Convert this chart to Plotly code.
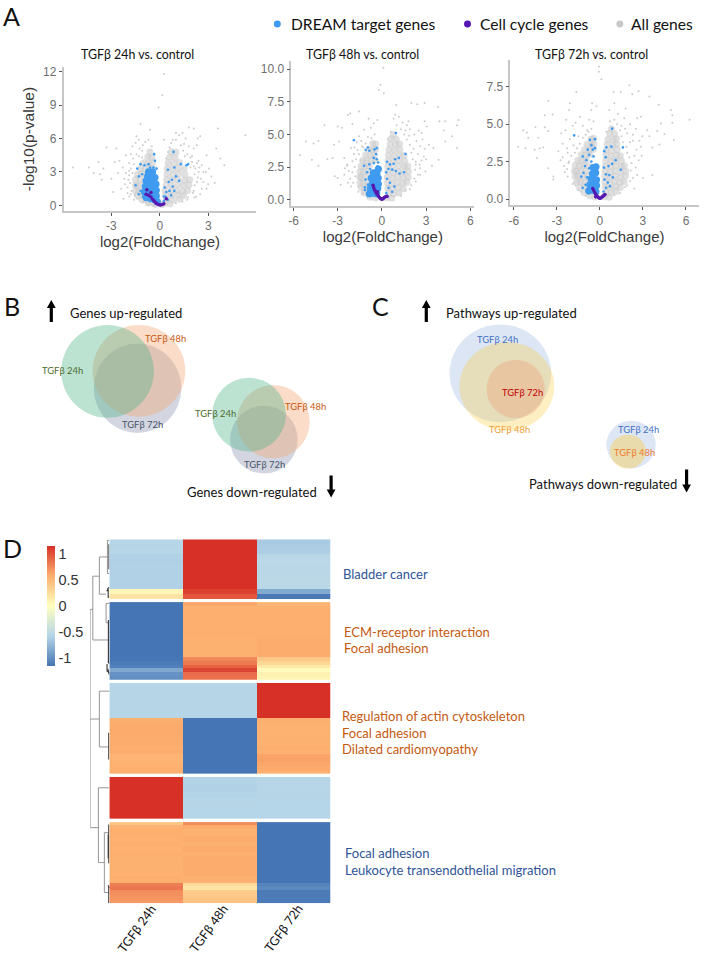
import plotly.graph_objects as go

W, H = 706, 954
SHIFT = 2.5

# ---------- A: volcano data (log2FC, -log10 p) ----------
v1_gray = [(-5.4,3.4),(-4.4,3.4),(-4.1,2.9),(-3.8,3.9),(-3.7,2.8),(-3.6,2.3),(-3.5,3.3),(-3.3,5.2),(-3.0,2.4),(-2.9,1.2),
 (-2.8,3.9),(-2.7,5.1),(-2.6,2.9),(-2.5,4.0),(-2.4,1.5),(-2.3,3.4),(-2.2,2.4),(-2.1,4.5),(-2.0,1.1),(-1.9,3.1),(-1.8,4.6),
 (-1.85,2.0),(-1.7,5.3),(-1.75,1.3),(-1.6,3.7),(-1.5,5.6),(-1.45,6.2),(-1.3,5.9),(-1.2,7.3),(-1.1,4.9),(-0.9,5.7),(-0.6,6.8),
 (-0.08,8.8),(0.25,11.8),(0.15,9.9),(-2.25,0.6),(-1.9,0.8),(-1.6,0.5),(-1.3,4.4),(-1.05,5.4),(-0.7,5.9),(-0.5,5.3),
 (0.6,5.2),(0.8,5.9),(1.0,6.5),(1.2,6.3),(1.4,6.5),(1.6,6.0),(1.8,7.0),(2.1,6.9),(2.35,6.0),(2.3,5.4),(2.5,6.2),(2.1,5.1),
 (2.4,4.0),(2.7,3.0),(2.9,4.5),(3.05,3.3),(3.5,5.1),(3.6,6.9),(3.75,4.2),(4.0,3.6),(5.3,6.3),(2.9,1.5),(2.5,1.0),(2.2,3.3),
 (2.35,2.5),(2.6,3.6),(2.1,1.3),(2.0,4.4),(1.8,5.3),(1.5,5.5),(3.2,2.6),(3.4,2.0),(2.15,0.7),(1.7,0.5),(0.25,5.9),
 (-2.0,1.6),(-1.95,2.3),(-2.1,2.9),(-1.9,2.7),(-2.15,1.9),(-1.8,3.3),(-1.7,2.9),(-1.9,3.8),(-1.65,4.2),(-1.45,4.6),(-1.25,5.1),(-1.1,4.3),
 (-1.55,0.9),(-1.8,1.0),(-1.4,0.6),(-1.05,0.25),(-0.75,0.05),(2.15,1.8),(2.3,2.1),(2.15,2.8),(2.4,3.0),(2.1,3.5),(2.3,3.8),(2.0,3.9),(2.55,2.4),
 (1.9,4.3),(1.7,4.6),(1.45,4.9),(1.55,4.4),(1.3,5.4),(1.0,5.9),(0.7,5.6),(0.5,4.8),(0.4,4.2),(2.05,1.1),(2.25,0.8),(1.75,0.7),(1.4,0.35),(1.0,0.2),
 (2.7,2.1),(2.85,3.0),(3.0,1.9),(1.9,3.4),(2.45,3.4),(2.6,1.5)]
v1_gray_dense = [(-0.72,0.22),(-0.42,0.18),(-1.12,0.52),(-0.82,0.48),(-1.4,0.92),(-1.12,0.86),(-1.5,1.32),(-1.3,1.28),(-1.03,1.33),
 (-1.52,1.8),(-1.42,1.76),(-1.12,1.82),(-1.5,2.32),(-1.22,2.28),(-0.93,2.34),(-1.38,2.8),(-1.12,2.84),(-0.82,2.76),(-0.52,2.86),
 (-1.18,3.32),(-0.92,3.26),(-0.63,3.34),(-0.4,3.3),(-1.0,3.82),(-0.72,3.76),(-0.45,3.86),(-0.75,4.34),(-0.5,4.28),(-0.62,4.8),
 (0.3,0.16),(0.62,0.14),(0.42,0.52),(0.82,0.48),(1.22,0.54),(0.36,0.92),(0.72,0.88),(1.12,0.94),(1.48,0.86),(0.33,1.32),(0.7,1.28),
 (1.06,1.34),(1.42,1.26),(1.72,1.33),(0.4,1.82),(0.75,1.76),(1.12,1.84),(1.46,1.78),(1.8,1.83),(0.42,2.32),(0.76,2.28),(1.1,2.34),
 (1.52,2.26),(1.85,2.31),(0.45,2.82),(0.82,2.78),(1.16,2.84),(1.56,2.76),(0.46,3.32),(0.8,3.26),(1.14,3.34),(1.5,3.28),(0.52,3.82),
 (0.86,3.76),(1.22,3.84),(0.62,4.34),(0.95,4.28),(0.72,4.82),(1.0,4.78),(-0.28,0.08),(0.12,0.06)]
v1_blue_dense = [(-0.85,0.7),(-0.55,0.6),(-0.3,0.5),(-0.15,0.32),(-0.95,1.2),(-0.7,1.1),(-0.45,1.0),(-0.22,0.85),(-0.9,1.7),(-0.65,1.6),
 (-0.4,1.5),(-0.22,1.35),(-0.85,2.2),(-0.6,2.15),(-0.38,2.0),(-0.24,1.9),(-0.75,2.6),(-0.5,2.6),(-0.3,2.5),(-0.45,3.0),(-0.7,3.0)]
v1_blue = [(-1.4,3.3),(-1.2,3.7),(-0.95,3.6),(-0.7,3.7),(-0.6,3.4),(-0.4,3.4),(-0.3,4.0),(-0.35,4.6),(-1.3,2.6),(-1.5,1.8),(-1.1,2.8),
 (-1.2,1.3),(-1.3,1.0),(-1.05,0.8),(-0.2,3.3),(0.25,0.4),(0.35,0.8),(0.4,1.2),(0.3,1.6),(0.6,1.3),(0.8,1.7),(0.9,1.3),(0.55,2.1),
 (0.75,2.3),(1.0,2.6),(0.5,3.2),(0.9,3.4),(1.3,3.7),(0.85,4.8),(1.65,3.6),(1.75,3.7),(0.25,0.8),(0.5,0.5),(0.7,0.9),(1.2,2.2)]
v1_purple = [(-0.85,1.0),(-0.7,0.9),(-0.55,0.75),(-0.45,0.55),(-0.35,0.38),(-0.25,0.22),(-0.15,0.12),(-0.05,0.05),(0.05,0.03),(0.15,0.08),
 (0.25,0.15),(-0.8,1.4),(-0.55,1.15),(0.4,0.6)]

v2_gray = [(-5.16,4.45),(-5.56,3.4),(-4.64,4.3),(-4.3,4.5),(-3.9,5.7),(-4.75,3.05),(-4.3,2.6),(-3.7,3.1),(-3.35,3.2),(-3.25,4.2),(-2.9,4.45),
 (-3.0,5.6),(-2.3,6.5),(-2.15,6.6),(-1.55,6.75),(-2.0,5.8),(-2.7,5.5),(-0.9,6.2),(-0.3,6.1),(-0.55,5.85),(-0.1,8.8),(-0.2,8.4),(0.13,8.15),
 (0.1,10.1),(0.97,7.25),(2.0,7.4),(2.4,7.3),(2.9,7.4),(3.8,7.1),(0.9,6.5),(1.15,6.35),(0.8,6.2),(1.8,6.0),(1.7,5.7),(2.9,6.0),(3.9,6.0),
 (4.3,6.0),(5.2,6.1),(5.1,5.7),(4.2,5.3),(4.75,4.85),(4.3,4.45),(5.1,3.95),(3.5,3.95),(3.85,3.05),(2.95,2.15),(2.5,5.3),(2.7,5.1),(3.05,5.6),
 (3.2,4.2),(2.85,3.3),(2.3,1.4),(-2.55,1.9),(-3.2,1.8),(-3.0,1.65),(-2.8,1.15),(-2.1,1.0),(-2.55,3.2),(-2.35,2.7),(-2.0,2.95),(-2.1,3.95),
 (-1.65,3.8),(-1.55,4.85),(-1.2,5.35),(-0.75,5.5),(-2.25,2.2),(-1.9,3.5),(-1.8,1.8),(-1.7,4.4),(-1.4,4.5),(-1.25,4.0),(2.6,4.1),(2.3,2.9),
 (2.45,3.5),(2.75,4.6),(2.35,4.5),(2.2,5.0),(1.9,5.4),(1.4,5.9),(3.4,2.6),(2.6,1.9),(1.9,0.8),(-1.6,0.6),(-2.3,1.3),
 (-1.95,1.3),(-2.0,2.1),(-1.85,2.5),(-1.75,3.1),(-2.15,1.6),(-1.55,3.5),(-1.35,4.1),(-1.1,4.3),(-0.95,4.8),(-0.7,4.7),(-0.5,5.0),(-1.6,1.0),(-1.3,0.5),
 (-1.0,0.2),(-2.35,2.6),(-2.5,2.4),(-1.85,4.0),(-1.45,3.0),(2.2,1.6),(2.25,2.3),(2.3,2.7),(2.1,3.1),(2.0,3.6),(2.15,3.9),(1.9,4.2),(1.7,4.6),(1.5,5.0),
 (1.3,5.4),(1.0,5.7),(0.6,5.2),(0.4,4.6),(2.0,1.1),(1.6,0.7),(1.3,0.3),(2.6,2.4),(2.7,3.0),(2.45,1.9),(2.55,2.7),(3.0,3.1),(2.9,3.9),(1.85,4.9),(1.6,5.3)]
v2_gray_dense = [(-0.8,0.18),(-0.42,0.12),(-1.22,0.52),(-0.9,0.48),(-1.4,0.92),(-1.18,0.88),(-0.86,0.94),(-1.48,1.32),(-1.3,1.28),(-0.98,1.34),
 (-1.5,1.74),(-1.4,1.7),(-1.08,1.78),(-1.48,2.16),(-1.26,2.12),(-0.94,2.18),(-1.4,2.58),(-1.16,2.54),(-0.86,2.6),(-1.3,3.0),(-1.04,2.96),(-0.74,3.04),
 (-0.45,3.0),(-1.1,3.42),(-0.8,3.38),(-0.5,3.44),(-0.9,3.86),(-0.66,3.82),(-0.42,3.88),(-0.62,4.3),(-0.42,4.26),
 (0.32,0.14),(0.66,0.1),(0.44,0.5),(0.8,0.46),(1.16,0.52),(0.4,0.9),(0.74,0.88),(1.1,0.92),(1.46,0.86),(0.36,1.3),(0.7,1.26),(1.06,1.32),
 (1.42,1.28),(1.7,1.34),(0.36,1.72),(0.72,1.68),(1.08,1.74),(1.44,1.7),(1.78,1.72),(0.4,2.14),(0.76,2.1),(1.12,2.16),(1.48,2.12),(1.8,2.16),
 (0.4,2.56),(0.76,2.52),(1.14,2.58),(1.5,2.54),(1.75,2.58),(0.42,2.98),(0.78,2.94),(1.16,3.0),(1.54,2.96),(0.44,3.4),(0.8,3.36),
 (1.18,3.42),(1.5,3.38),(0.48,3.82),(0.84,3.78),(1.22,3.84),(0.56,4.24),(0.92,4.2),(1.2,4.26),(0.62,4.66),(0.98,4.62),(0.78,5.0)]
v2_blue_dense = [(-0.85,0.45),(-0.6,0.5),(-0.35,0.45),(-0.78,0.85),(-0.52,0.9),(-0.28,0.85),(-0.65,1.25),(-0.42,1.3),(-0.24,1.2),(-0.72,1.65),(-0.48,1.6),
 (-0.25,1.65),(-0.58,2.05),(-0.34,2.0),(-0.24,2.35)]
v2_blue = [(-1.9,4.55),(-1.1,3.8),(-0.95,4.0),(-0.85,3.75),(-0.5,3.85),(-0.35,3.95),(-0.4,3.5),(-0.55,3.2),(-0.35,3.1),(-0.55,2.8),(-0.85,2.7),
 (-1.2,2.6),(-0.8,2.35),(-1.0,2.1),(-0.25,2.85),(-0.3,2.55),(-1.15,0.95),(-1.15,0.75),(-0.95,1.15),(-1.1,1.55),(0.3,0.5),(0.45,0.9),(0.7,0.6),(0.55,1.3),(0.85,1.0),
 (0.35,1.6),(0.3,2.1),(0.45,2.35),(0.7,2.3),(0.95,2.2),(1.2,2.0),(1.5,2.1),(0.9,3.1),(1.15,3.2),(0.8,2.75),(1.6,3.5),(0.95,5.1),(0.55,2.7),(0.35,2.9)]
v2_purple = [(-0.6,1.1),(-0.55,0.9),(-0.48,0.72),(-0.4,0.55),(-0.32,0.42),(-0.24,0.28),(-0.16,0.16),(-0.08,0.08),(0.0,0.04),(0.08,0.08),(0.16,0.16),(0.24,0.22),
 (0.35,0.25),(-0.3,0.6)]

v3_gray = [(-5.7,3.5),(-5.35,4.6),(-5.1,4.45),(-5.0,4.1),(-5.2,3.4),(-4.5,4.8),(-4.55,3.3),(-4.4,2.75),(-4.2,3.4),(-4.3,4.1),(-3.85,4.8),(-3.6,4.55),(-3.85,5.6),
 (-3.6,6.55),(-3.3,5.65),(-3.6,2.05),(-3.25,1.5),(-3.25,1.3),(-3.95,3.45),(-2.7,4.4),(-2.35,5.3),(-2.1,6.4),(-2.15,5.95),(-1.65,7.15),(-1.4,5.5),(-0.55,6.4),(-0.6,5.95),
 (-0.25,6.2),(-0.07,8.85),(-0.07,8.5),(0.1,8.0),(0.95,7.15),(1.45,7.15),(2.05,7.6),(2.25,7.0),(2.7,7.2),(3.45,6.85),(4.1,6.3),(4.95,5.95),(5.05,5.6),(6.25,5.3),(4.25,5.05),
 (5.05,5.1),(4.0,4.55),(4.5,4.35),(5.15,3.95),(4.15,3.65),(3.65,3.45),(3.65,1.6),(3.0,1.4),(2.4,0.7),(3.45,4.2),(3.3,4.6),(2.85,5.5),(2.6,5.4),(1.8,6.05),(1.0,6.4),(0.65,5.95),
 (1.25,5.7),(-2.9,3.2),(-2.75,2.6),(-2.6,3.7),(-2.45,1.8),(-2.4,4.6),(-2.25,3.1),(-2.2,2.4),(-2.1,4.0),(-1.9,4.9),(-1.8,1.1),(-1.7,5.1),(-1.2,4.9),(-0.9,4.6),(-0.75,5.3),
 (2.5,4.7),(2.3,3.9),(2.4,2.9),(2.5,2.1),(2.85,3.5),(2.95,4.2),(2.1,5.0),(1.7,5.4),(1.5,4.9),(2.7,2.6),(2.3,1.4),(1.9,0.9),(-1.5,0.6),
 (-2.25,1.5),(-2.3,2.0),(-2.15,2.5),(-2.0,2.9),(-1.75,3.1),(-1.6,3.4),(-1.4,3.7),(-1.2,4.1),(-1.0,4.3),(-0.8,4.5),(-0.6,4.7),(-0.45,5.2),(-2.5,2.2),(-2.6,2.8),(-1.7,0.9),
 (-1.9,1.0),(-1.35,0.5),(-1.0,0.2),(-1.85,3.6),(-2.3,3.4),(-1.5,4.2),(2.1,1.2),(2.15,1.9),(2.2,2.4),(2.05,2.8),(1.9,3.1),(1.85,3.5),(1.6,3.8),(1.5,4.2),(1.4,4.6),(1.2,5.0),
 (1.0,5.3),(0.7,5.2),(0.45,4.5),(1.75,0.8),(1.4,0.4),(1.0,0.25),(2.6,1.6),(2.55,3.3),(2.1,3.8),(1.9,4.4),(2.3,4.3),(2.9,2.9),(2.75,3.9),(1.75,4.7)]
v3_gray_dense = [(-0.7,0.2),(-0.36,0.14),(-1.1,0.44),(-0.78,0.5),(-1.42,0.78),(-1.1,0.84),(-0.8,0.8),(-1.6,1.14),(-1.38,1.18),(-1.06,1.12),(-0.76,1.2),(-1.72,1.5),(-1.52,1.54),
 (-1.2,1.48),(-0.88,1.56),(-1.78,1.88),(-1.62,1.84),(-1.3,1.9),(-0.98,1.86),(-1.72,2.24),(-1.44,2.2),(-1.12,2.26),(-0.8,2.2),(-1.55,2.6),(-1.28,2.56),(-0.96,2.62),(-1.3,2.96),
 (-1.04,2.92),(-0.72,2.98),(-1.08,3.3),(-0.76,3.26),(-0.46,3.32),(-0.9,3.66),(-0.58,3.6),(-0.42,3.7),(-0.62,4.0),(-0.44,4.06),
 (0.3,0.16),(0.64,0.12),(0.42,0.46),(0.76,0.42),(1.12,0.5),(0.38,0.8),(0.72,0.78),(1.08,0.84),(1.42,0.78),(0.34,1.14),(0.68,1.12),(1.04,1.18),(1.4,1.12),(1.68,1.16),(0.34,1.5),
 (0.7,1.46),(1.06,1.52),(1.42,1.48),(1.78,1.54),(0.36,1.86),(0.72,1.82),(1.08,1.88),(1.46,1.84),(1.8,1.86),(0.38,2.2),(0.74,2.16),(1.1,2.22),(1.48,2.18),(1.7,2.22),(0.4,2.56),
 (0.76,2.52),(1.12,2.58),(1.5,2.54),(0.42,2.92),(0.78,2.88),(1.14,2.94),(1.42,2.9),(0.46,3.28),(0.82,3.24),(1.2,3.3),(0.5,3.64),(0.88,3.6),(1.18,3.66),(0.56,4.0),(0.92,3.96),
 (1.15,4.02),(0.68,4.38),(1.02,4.34),(0.8,4.7)]
v3_blue_dense = [(-0.78,0.55),(-0.52,0.6),(-0.28,0.5),(-0.7,0.95),(-0.46,0.98),(-0.24,0.9),(-0.62,1.35),(-0.4,1.32),(-0.24,1.28),(-0.52,1.7),(-0.3,1.75),(-0.48,2.1),(-0.28,2.15)]
v3_blue = [(-1.8,4.25),(-0.7,3.95),(-0.35,4.0),(-0.6,3.6),(-0.85,3.3),(-0.5,3.3),(-0.35,3.4),(-0.75,2.95),(-0.45,2.85),(-1.2,2.85),(-0.95,2.6),(-0.6,2.5),(-1.05,2.2),(-0.75,2.05),
 (-1.15,1.75),(-0.9,1.45),(-1.3,1.5),(-1.0,0.95),(-1.2,0.75),(0.25,0.5),(0.42,0.75),(0.7,0.85),(0.55,1.1),(0.32,1.3),(0.42,1.65),(0.65,1.6),(0.28,2.1),(0.6,2.2),(0.85,2.35),(1.1,2.6),
 (1.45,1.95),(0.4,2.8),(0.8,3.5),(0.45,3.45),(1.6,3.45),(0.85,4.7),(0.3,3.2),(0.9,1.45)]
v3_purple = [(-0.5,0.7),(-0.42,0.55),(-0.35,0.42),(-0.28,0.3),(-0.2,0.2),(-0.12,0.12),(-0.04,0.06),(0.04,0.06),(0.12,0.12),(0.2,0.18),(0.28,0.25),(-0.3,0.15),(0.35,0.3)]

# ---------- B / C: Venn circles, estimated (centre x, centre y, rx, ry) ----------
venn_green_up, venn_orange_up, venn_gray_up = (107.5,370.5,46.5,46.5), (139,370,46.5,46), (137.6,387.5,44,44.8)
venn_green_dn, venn_orange_dn, venn_gray_dn = (249.6,414,37,37), (274,421,36.5,36.7), (264.5,439,34,34)
path_blue_up, path_yellow_up, path_red_up = (502,372.5,51,49), (508.5,385.5,47.6,44.5), (517.4,388.3,29.3,29.3)
path_blue_dn, path_yellow_dn = (633.3,444,24.8,24), (630,451,18,17)

# ---------- D: heat-map rows (row z-scores, TGFb 24h / 48h / 72h) ----------
heat_cols = ["TGFβ 24h", "TGFβ 48h", "TGFβ 72h"]
block1 = [[-.56,1.155,-.65],[-.57,1.155,-.63],[-.56,1.155,-.62],[-.6,1.155,-.55],[-.61,1.155,-.54],[-.6,1.155,-.55],[-.6,1.155,-.55],
          [-.6,1.155,-.54],[-.6,1.155,-.54],[-.6,1.155,-.54],[.06,1.08,-.84],[.2,.98,-1.13]]
block2 = [[-1.155,.62,.53]]+[[-1.155,.58,.58]]*8+[[-1.155,.57,.59]]*5+[[-1.15,.76,.4],[-1.12,.82,.3],[-1.09,.93,.16],[-.85,1.06,.02],[-.98,.88,.1],[-1.0,.86,.08]]
block3 = [[-.57,-.57,1.155]]*9+[[.58,-1.155,.58],[.59,-1.155,.57],[.6,-1.155,.56],[.6,-1.155,.56],[.59,-1.155,.57],[.59,-1.155,.57],
          [.6,-1.155,.56],[.58,-1.155,.58],[.59,-1.155,.57],[.55,-1.155,.63],[.54,-1.155,.64],[.56,-1.155,.62],[.57,-1.155,.6],[.58,-1.155,.58]]
block4 = [[1.155,-.59,-.57],[1.155,-.6,-.56],[1.155,-.59,-.57],[1.155,-.57,-.58],[1.155,-.57,-.58],[1.155,-.58,-.57]]
block5 = [[.42,.74,-1.155],[.56,.6,-1.155],[.58,.57,-1.155],[.58,.57,-1.155],[.57,.59,-1.155],[.57,.59,-1.155],[.58,.57,-1.155],[.56,.6,-1.155],[.56,.6,-1.155],
          [.58,.57,-1.155],[.57,.59,-1.155],[.57,.59,-1.155],[.56,.6,-1.155],[.57,.59,-1.155],[.57,.59,-1.155],[.56,.6,-1.155],[.58,.57,-1.155],[.58,.57,-1.155],
          [.8,.27,-1.07],[.84,.2,-1.04],[.74,.38,-1.12],[.72,.4,-1.12],[.7,.42,-1.12],[.68,.44,-1.12]]
heat_blocks = [block1, block2, block3, block4, block5]
heat_scale = [[0,"#4575B4"],[.25,"#B5D5E8"],[.5,"#FFFFBF"],[.75,"#FDB070"],[1,"#D73027"]]
bar_ticks = [-1, -0.5, 0, 0.5, 1]
bar_labels = ["-1", "-0.5", "0", "0.5", "1"]

# dendrogram: merge height (0 = leaves), row position
dend_light = [
 [(.86,70.3),(1,70.3),(1,289.3),(.57,289.3)],
 [(.52,37),(.86,37),(.86,101),(.05,101)],
 [(.17,17.7),(.52,17.7),(.52,55),(.17,55)],
 [(0,1),(.10,1),(.10,34.3),(0,34.3)],[(.17,17.7),(.10,17.7)],
 [(0,64.3),(.17,64.3),(.17,83.7),(.05,83.7)],
 [(1,180.3),(.52,180.3)],[(0,152.3),(.52,152.3),(.52,208.3),(0,208.3)],
 [(0,249.3),(.57,249.3),(.57,324.3),(.26,324.3)],
 [(.03,294.3),(.26,294.3),(.26,354.3),(0,354.3)],
]
dend_dark = [
 [(.05,81),(.05,124)],[(.02,5),(.02,30)],[(.14,52),(.06,50),(.06,58),(0,58)],[(.1,50),(0,48)],
 [(.12,125),(.12,132),(0,134)],[(.06,122),(0,125)],[(.08,130),(0,136)],
 [(.03,194),(.03,221)],[(.03,286),(.03,325)],[(.06,296),(.06,320)],[(.03,348),(.03,365)],[(.06,347),(0,350)],
]

# ---------- layout helpers (pixel geometry of the panels) ----------
def px(x): return (x - SHIFT) / W
def py(y): return 1 - y / H

panels = [
 dict(gray=v1_gray, dense=v1_gray_dense, bd=v1_blue_dense, b=v1_blue, p=v1_purple, box=(63.3,257,65,210), x0=160, xu=16.2, y0=204, yu=11.17,
      xt=[-3,0,3], yt=[0,3,6,9,12], ytt=["0","3","6","9","12"], title="TGFβ 24h vs. control", tx=138, ylab="-log10(p-value)", so=1),
 dict(gray=v2_gray, dense=v2_gray_dense, bd=v2_blue_dense, b=v2_blue, p=v2_purple, box=(292,476,59,204.7), x0=383, xu=14.8, y0=198.3, yu=13.1,
      xt=[-6,-3,0,3,6], yt=[0,2.5,5,7.5,10], ytt=["0.0","2.5","5.0","7.5","10.0"], title="TGFβ 48h vs. control", tx=364, ylab=None, so=2),
 dict(gray=v3_gray, dense=v3_gray_dense, bd=v3_blue_dense, b=v3_blue, p=v3_purple, box=(512,701,58,204), x0=602, xu=14.4, y0=197.7, yu=15.03,
      xt=[-6,-3,0,3,6], yt=[0,2.5,5,7.5], ytt=["0.0","2.5","5.0","7.5"], title="TGFβ 72h vs. control", tx=594, ylab=None, so=2),
]

GRAY, BLUE, PURPLE = "#CBCBCB", "#3F9BEF", "#5617B0"
TICK = "#6F6F6F"
LATO = "Lato, 'Open Sans', sans-serif"
ARIAL = "'Liberation Sans', Arial, sans-serif"

fig = go.Figure()
layout = dict(width=W, height=H, autosize=False, margin=dict(l=0, r=0, t=0, b=0),
              paper_bgcolor="white", plot_bgcolor="rgba(0,0,0,0)", showlegend=False)
annots, shapes = [], []

layout["xaxis"] = dict(domain=[0,1], range=[SHIFT,W+SHIFT], visible=False, fixedrange=True)
layout["yaxis"] = dict(domain=[0,1], range=[H,0], visible=False, fixedrange=True)
fig.add_trace(go.Scatter(x=[10], y=[10], mode="markers", marker=dict(opacity=0), hoverinfo="skip"))

def add_xy(points, name, color, size, xa, ya, opacity=1):
    fig.add_trace(go.Scatter(x=[p[0] for p in points], y=[p[1] for p in points], mode="markers", name=name,
                             marker=dict(color=color, size=size, opacity=opacity, line=dict(width=0)), xaxis=xa, yaxis=ya))

for i, p in enumerate(panels):
    n = i + 2
    l, r, t, b = p["box"]
    layout[f"xaxis{n}"] = dict(domain=[px(l), px(r)], range=[(l-p["x0"])/p["xu"], (r-p["x0"])/p["xu"]], anchor=f"y{n}",
        tickvals=p["xt"], ticktext=[str(v) for v in p["xt"]], showgrid=False, zeroline=False, showline=True, linecolor="#C6C6C6", linewidth=1.5,
        ticks="outside", ticklen=3, tickcolor="#555", tickwidth=1, tickfont=dict(family=ARIAL, size=12, color=TICK),
        title=dict(text="log2(FoldChange)", font=dict(family=ARIAL, size=15, color="#3A3A3A"), standoff=p["so"]), fixedrange=True)
    layout[f"yaxis{n}"] = dict(domain=[py(b), py(t)], range=[(p["y0"]-b)/p["yu"], (p["y0"]-t)/p["yu"]], anchor=f"x{n}",
        tickvals=p["yt"], ticktext=p["ytt"], showgrid=False, zeroline=False, showline=True, linecolor="#C6C6C6", linewidth=1.5,
        ticks="outside", ticklen=3, tickcolor="#555", tickwidth=1, tickfont=dict(family=ARIAL, size=12, color=TICK), fixedrange=True)
    if p["ylab"]:
        layout[f"yaxis{n}"]["title"] = dict(text=p["ylab"], font=dict(family=ARIAL, size=15.5, color="#3A3A3A"), standoff=5)
    xa, ya = f"x{n}", f"y{n}"
    add_xy(p["dense"], "All genes", GRAY, 7, xa, ya, .6)
    add_xy(p["gray"], "All genes", GRAY, 2, xa, ya)
    add_xy(p["bd"], "DREAM target genes", BLUE, 7.2, xa, ya)
    add_xy(p["b"], "DREAM target genes", BLUE, 2.6, xa, ya)
    add_xy(p["p"], "Cell cycle genes", PURPLE, 3.6, xa, ya)
    annots.append(dict(x=px(p["tx"]), y=py(53), text=p["title"], font=dict(family=LATO, size=12.4, color="#111")))

for cx, col, label, tx in [(278,BLUE,"DREAM target genes",290),(469,PURPLE,"Cell cycle genes",480),(622,"#C8C8C8","All genes",631)]:
    shapes.append(dict(type="circle", xref="x", yref="y", x0=cx-3.5, x1=cx+3.5, y0=18.5, y1=25.5, fillcolor=col, line=dict(width=0), layer="above"))
    annots.append(dict(x=px(tx), y=py(22), text=label, xanchor="left", font=dict(family=LATO, size=15.6, color="#111")))

# Venn circles (bottom to top)
VG, VO, VS = "rgb(80,178,135)", "rgb(242,167,117)", "rgb(145,152,177)"
PB, PY, PR = "rgb(170,192,230)", "rgb(250,205,70)", "rgb(235,150,110)"
for c, col, op in [(venn_gray_up,VS,.4),(venn_orange_up,VO,.4),(venn_green_up,VG,.38),
                   (venn_gray_dn,VS,.4),(venn_orange_dn,VO,.4),(venn_green_dn,VG,.38),
                   (path_blue_up,PB,.4),(path_yellow_up,PY,.33),(path_red_up,PR,.32),
                   (path_blue_dn,PB,.4),(path_yellow_dn,PY,.42)]:
    shapes.append(dict(type="circle", xref="x", yref="y", x0=c[0]-c[2], x1=c[0]+c[2], y0=c[1]-c[3], y1=c[1]+c[3],
                       fillcolor=col, opacity=op, line=dict(width=0), layer="below"))

GREEN_T, ORANGE_T, SLATE_T, BLUE_T = "#4E6B2E", "#C55A11", "#44546A", "#4472C4"
for x, y, s, col in [(62.7,369.7,"TGFβ 24h",GREEN_T),(165.5,337.7,"TGFβ 48h",ORANGE_T),(142.5,424.3,"TGFβ 72h",SLATE_T),
                     (215.6,413,"TGFβ 24h",GREEN_T),(305.8,405.3,"TGFβ 48h",ORANGE_T),(265,464,"TGFβ 72h",SLATE_T),
                     (499,338.7,"TGFβ 24h",BLUE_T),(524,391.7,"TGFβ 72h","#C00000"),(511.5,429,"TGFβ 48h","#F0A040"),
                     (640.5,428.7,"TGFβ 24h",BLUE_T),(636.5,451.7,"TGFβ 48h","#ED7D31")]:
    annots.append(dict(x=px(x), y=py(y), text=s, font=dict(family=LATO, size=9.4, color=col)))

for x, y, s in [(67.7,312,"Genes up-regulated"),(185,491.7,"Genes down-regulated"),(445,312,"Pathways up-regulated"),(529,483.7,"Pathways down-regulated")]:
    annots.append(dict(x=px(x), y=py(y), text=s, xanchor="left", font=dict(family=LATO, size=13, color="#111")))

def arrow(x, y0, y1):
    d = 1 if y1 > y0 else -1
    pts = [(x-1.6,y0),(x+1.6,y0),(x+1.6,y1-d*8),(x+4.4,y1-d*8),(x,y1),(x-4.4,y1-d*8),(x-1.6,y1-d*8)]
    return dict(type="path", xref="x", yref="y", layer="above", fillcolor="black", line=dict(width=0),
                path="M" + " L".join(f"{a},{b}" for a, b in pts) + " Z")
shapes += [arrow(51,321,299), arrow(332,475,497), arrow(427.6,321,299), arrow(689,469,492)]

for x, y, s in [(0,14,"A"),(1,305,"B"),(371,305,"C"),(0,548,"D")]:
    annots.append(dict(x=px(x), y=py(y), text=s, xanchor="left", font=dict(family=LATO, size=25, color="#111")))

# heat-map blocks
heat_left, heat_right = 109.3, 331.7
heat_y = [(539,599),(602,680),(683,774.3),(777.3,819.3),(822.7,904.3)]
for k, (rows, (t, b)) in enumerate(zip(heat_blocks, heat_y)):
    n = 10 + k
    layout[f"xaxis{n}"] = dict(domain=[px(heat_left), px(heat_right)], range=[-.5,2.5], visible=False, anchor=f"y{n}", fixedrange=True)
    layout[f"yaxis{n}"] = dict(domain=[py(b), py(t)], range=[len(rows)-.5,-.5], visible=False, anchor=f"x{n}", fixedrange=True)
    tr = dict(z=rows, x=[0,1,2], y=list(range(len(rows))), colorscale=heat_scale, zmin=-1.155, zmax=1.155, xaxis=f"x{n}", yaxis=f"y{n}", showscale=False, hoverinfo="z")
    if k == 0:
        tr.update(showscale=True, colorbar=dict(x=px(46.7), xanchor="left", y=py(606), yanchor="middle", lenmode="pixels", len=120,
                  thicknessmode="pixels", thickness=7.6, xpad=0, ypad=0, outlinewidth=0, ticks="",
                  tickvals=bar_ticks, ticktext=bar_labels, tickfont=dict(family=ARIAL, size=14.5, color="#333")))
    fig.add_trace(go.Heatmap(**tr))

layout["xaxis20"] = dict(domain=[px(90), px(109.3)], range=[1,0], visible=False, anchor="y20", fixedrange=True)
layout["yaxis20"] = dict(domain=[py(904.3), py(539)], range=[365.3,0], visible=False, anchor="x20", fixedrange=True)
for segs, col, wd in [(dend_light,"#8A8A8A",.9),(dend_dark,"#333333",1.1)]:
    xs, ys = [], []
    for s in segs:
        xs += [q[0] for q in s] + [None]
        ys += [q[1] for q in s] + [None]
    fig.add_trace(go.Scatter(x=xs, y=ys, mode="lines", line=dict(color=col, width=wd), xaxis="x20", yaxis="y20", hoverinfo="skip"))

for cx, cy, s in [(137,929,heat_cols[0]),(209,929,heat_cols[1]),(284,929,heat_cols[2])]:
    annots.append(dict(x=px(cx), y=py(cy), text=s, textangle=-54, font=dict(family=LATO, size=12.5, color="#111")))

PATH_BLUE, PATH_ORANGE = "#2F5597", "#C55A11"
for x, y, s, col in [(342,574.3,"Bladder cancer",PATH_BLUE),(343,631.7,"ECM-receptor interaction",PATH_ORANGE),(343,648.3,"Focal adhesion",PATH_ORANGE),
                     (341,716,"Regulation of actin cytoskeleton",PATH_ORANGE),(341,733,"Focal adhesion",PATH_ORANGE),(341,749.7,"Dilated cardiomyopathy",PATH_ORANGE),
                     (344,854,"Focal adhesion",PATH_BLUE),(344,871,"Leukocyte transendothelial migration",PATH_BLUE)]:
    annots.append(dict(x=px(x), y=py(y), text=s, xanchor="left", font=dict(family=LATO, size=13, color=col)))

for a in annots:
    a.update(xref="paper", yref="paper", showarrow=False, yanchor="middle")
    a.setdefault("xanchor", "center")
layout["annotations"] = annots
layout["shapes"] = shapes
fig.update_layout(**layout)
fig.write_html("out.html", config=dict(displayModeBar=False),
               post_script="document.body.style.margin='0';document.body.style.overflow='hidden';")
